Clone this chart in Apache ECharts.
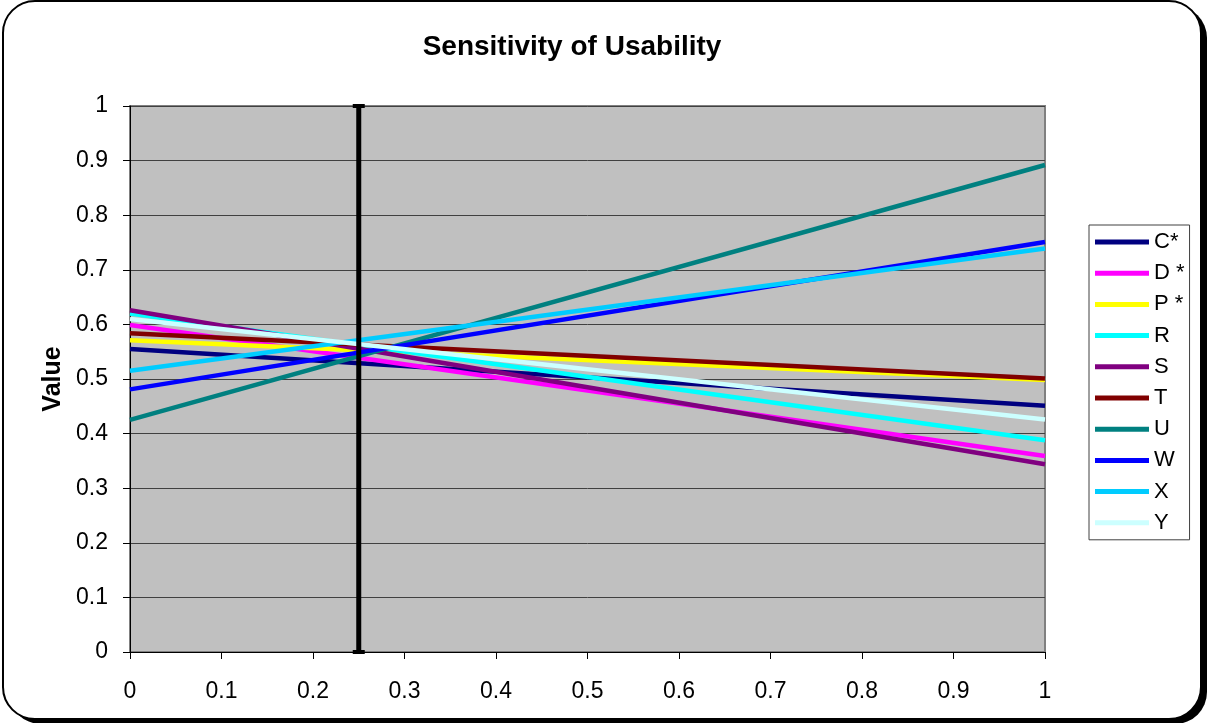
<!DOCTYPE html>
<html>
<head>
<meta charset="utf-8">
<script src="https://cdn.jsdelivr.net/npm/echarts@6/dist/echarts.min.js"></script>
<style>
  html, body { margin: 0; padding: 0; background: #fff; }
  #chart { width: 1209px; height: 723px; }
</style>
</head>
<body>
<div id="chart"></div>
<script>
// weights on the x axis
var xPoints = [0, 1];
var seriesNames = ['C*', 'D *', 'P *', 'R', 'S', 'T', 'U', 'W', 'X', 'Y'];
var seriesColors = ['#000080', '#FF00FF', '#FFFF00', '#00FFFF', '#800080', '#800000', '#008080', '#0000FF', '#00CCFF', '#CCFFFF'];
// value at weight 0 and weight 1
var startValues = [0.555, 0.599, 0.571, 0.620, 0.626, 0.584, 0.425, 0.481, 0.515, 0.610];
var endValues = [0.451, 0.359, 0.498, 0.388, 0.344, 0.501, 0.892, 0.751, 0.739, 0.426];
// current weight marker
var markerX = 0.25;
var markerRange = [0, 1];

var chart = echarts.init(document.getElementById('chart'));
var font = 'Arial, "Liberation Sans", sans-serif';

var series = [];
for (var i = 0; i < seriesNames.length; i++) {
    series.push({
        name: seriesNames[i],
        type: 'line',
        data: [[xPoints[0], startValues[i]], [xPoints[1], endValues[i]]],
        symbol: 'none',
        lineStyle: { color: seriesColors[i], width: 4.5 },
        itemStyle: { color: seriesColors[i] },
        z: 2 + i
    });
}
// vertical bar with caps at the current weight
series.push({
    name: 'marker',
    type: 'line',
    data: [[markerX, markerRange[0]], [markerX, markerRange[1]]],
    symbol: 'rect',
    symbolSize: [12, 4],
    showSymbol: true,
    lineStyle: { color: '#000', width: 5 },
    itemStyle: { color: '#000' },
    z: 20
});

var option = {
    animation: false,
    graphic: [{
        type: 'rect',
        z: -12,
        shape: { x: 9, y: 6, width: 1198, height: 718, r: 32 },
        style: { fill: '#000' }
    }, {
        type: 'rect',
        z: -11,
        shape: { x: 3, y: 1, width: 1198, height: 718, r: 32 },
        style: { fill: '#fff', stroke: '#000', lineWidth: 2 }
    }, {
        type: 'rect',
        z: -5,
        shape: { x: 130, y: 106, width: 915, height: 546 },
        style: { fill: '#C0C0C0', stroke: '#808080', lineWidth: 2 }
    }],
    title: {
        text: 'Sensitivity of Usability',
        left: 567,
        top: 28,
        textAlign: 'center',
        textStyle: { fontFamily: font, fontSize: 28, fontWeight: 'bold', color: '#000' }
    },
    legend: {
        data: seriesNames,
        orient: 'vertical',
        left: 1089,
        top: 225,
        padding: [6, 5, 6, 6],
        icon: 'rect',
        itemWidth: 54,
        itemHeight: 5,
        itemGap: 9.2,
        borderColor: '#404040',
        borderWidth: 1,
        backgroundColor: '#fff',
        textStyle: { fontFamily: font, fontSize: 22, lineHeight: 22, color: '#000' }
    },
    grid: { left: 130, right: 164, top: 106, bottom: 71 },
    xAxis: {
        type: 'value',
        min: 0,
        max: 1,
        interval: 0.1,
        axisLine: { lineStyle: { color: '#000', width: 1 } },
        axisTick: { show: true, length: 7, lineStyle: { color: '#000' } },
        axisLabel: { fontFamily: font, fontSize: 23, color: '#000', margin: 28 },
        splitLine: { show: false }
    },
    yAxis: {
        type: 'value',
        min: 0,
        max: 1,
        interval: 0.1,
        name: 'Value',
        nameLocation: 'middle',
        nameGap: 62,
        nameTextStyle: { fontFamily: font, fontSize: 25, fontWeight: 'bold', color: '#000' },
        axisLine: { show: true, lineStyle: { color: '#000', width: 1 } },
        axisTick: { show: true, length: 7, lineStyle: { color: '#000' } },
        axisLabel: { fontFamily: font, fontSize: 23, color: '#000', margin: 22 },
        splitLine: { show: true, lineStyle: { color: '#404040', width: 1 } }
    },
    series: series
};
chart.setOption(option);
</script>
</body>
</html>
